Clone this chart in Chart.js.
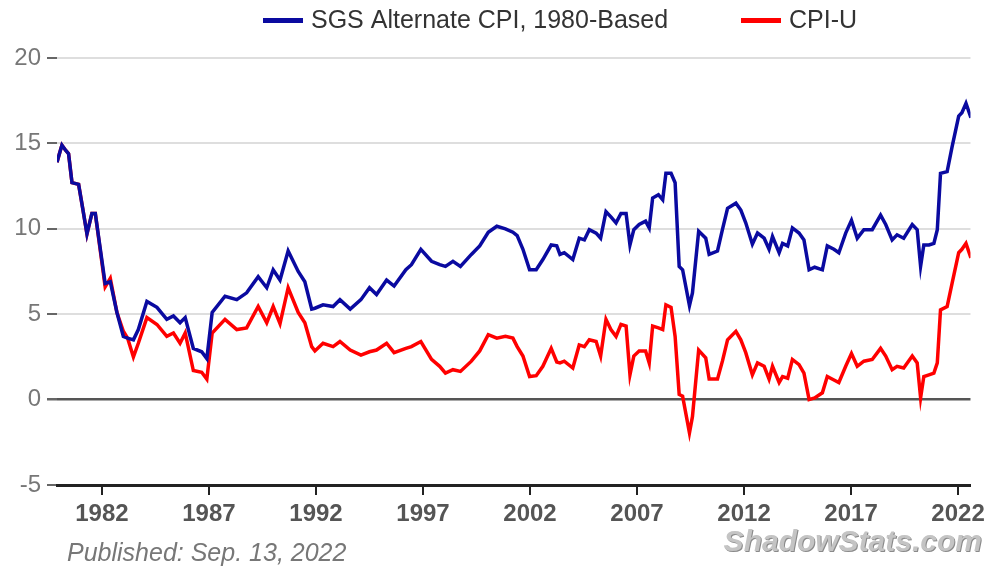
<!DOCTYPE html>
<html>
<head>
<meta charset="utf-8">
<script src="https://cdn.jsdelivr.net/npm/chart.js@4/dist/chart.umd.min.js"></script>
<style>
  body { margin: 0; background: #fff; }
</style>
</head>
<body>
<canvas id="cpiChart" width="990" height="569"></canvas>
<script>
// Year-over-year inflation
var years = [
  1979.9, 1980.13, 1980.3, 1980.44, 1980.6, 1980.91, 1981.1, 1981.3, 1981.53, 1981.69,
  1982.15, 1982.39, 1982.7, 1983.0, 1983.2, 1983.47, 1983.7, 1984.1, 1984.57, 1985.03,
  1985.34, 1985.65, 1985.89, 1986.27, 1986.66, 1986.9, 1987.15, 1987.75, 1988.3, 1988.76,
  1989.3, 1989.7, 1990.0, 1990.32, 1990.7, 1991.17, 1991.48, 1991.8, 1991.95, 1992.33,
  1992.8, 1993.12, 1993.6, 1994.1, 1994.5, 1994.83, 1995.3, 1995.65, 1996.2, 1996.46,
  1996.9, 1997.4, 1997.78, 1998.05, 1998.4, 1998.75, 1999.26, 1999.65, 2000.05, 2000.45,
  2000.85, 2001.2, 2001.4, 2001.67, 2001.98, 2002.29, 2002.6, 2002.99, 2003.25, 2003.4,
  2003.6, 2004.0, 2004.3, 2004.54, 2004.77, 2005.09, 2005.3, 2005.55, 2005.78, 2006.02,
  2006.25, 2006.49, 2006.67, 2006.85, 2007.1, 2007.4, 2007.57, 2007.73, 2008.0, 2008.2,
  2008.35, 2008.59, 2008.78, 2008.97, 2009.13, 2009.45, 2009.59, 2009.88, 2010.21, 2010.37,
  2010.76, 2010.99, 2011.23, 2011.62, 2011.85, 2012.08, 2012.39, 2012.63, 2012.94, 2013.17,
  2013.33, 2013.64, 2013.8, 2014.04, 2014.26, 2014.57, 2014.8, 2015.04, 2015.3, 2015.66,
  2015.89, 2016.2, 2016.43, 2016.75, 2017.02, 2017.29, 2017.6, 2017.99, 2018.38, 2018.62,
  2018.92, 2019.15, 2019.46, 2019.86, 2020.09, 2020.25, 2020.4, 2020.64, 2020.87, 2021.03,
  2021.18, 2021.49, 2021.72, 2022.03, 2022.18, 2022.37, 2022.6
];

// SGS Alternate CPI, 1980-Based
var sgsAlt = [
  13.9, 14.9, 14.6, 14.4, 12.7, 12.6, 11.2, 9.7, 10.9, 10.9,
  6.8, 6.9, 5.1, 3.7, 3.6, 3.5, 4.1, 5.75, 5.4, 4.7,
  4.9, 4.5, 4.8, 3.0, 2.8, 2.4, 5.1, 6.05, 5.85, 6.25,
  7.2, 6.55, 7.6, 7.0, 8.7, 7.5, 6.9, 5.3, 5.35, 5.55,
  5.45, 5.85, 5.3, 5.85, 6.55, 6.15, 7.0, 6.65, 7.6, 7.9,
  8.8, 8.1, 7.9, 7.8, 8.1, 7.8, 8.5, 9.0, 9.8, 10.15,
  10.0, 9.8, 9.6, 8.8, 7.6, 7.6, 8.2, 9.05, 9.0, 8.5,
  8.6, 8.2, 9.45, 9.35, 9.95, 9.75, 9.45, 11.0, 10.7, 10.35,
  10.9, 10.9, 9.05, 9.95, 10.25, 10.45, 10.05, 11.8, 12.0, 11.7,
  13.25, 13.25, 12.7, 7.8, 7.6, 5.5, 6.25, 9.85, 9.45, 8.5,
  8.7, 9.95, 11.2, 11.5, 11.1, 10.35, 9.1, 9.75, 9.45, 8.8,
  9.55, 8.6, 9.15, 9.0, 10.05, 9.75, 9.35, 7.6, 7.75, 7.6,
  9.0, 8.8, 8.6, 9.75, 10.5, 9.45, 9.95, 9.95, 10.8, 10.25,
  9.35, 9.65, 9.45, 10.25, 9.95, 7.8, 9.05, 9.05, 9.15, 9.95,
  13.25, 13.35, 14.8, 16.6, 16.8, 17.35, 16.5
];

// CPI-U
var cpiU = [
  13.9, 14.9, 14.6, 14.4, 12.7, 12.6, 11.2, 9.7, 10.9, 10.9,
  6.6, 7.1, 5.1, 4.0, 3.6, 2.5, 3.3, 4.8, 4.4, 3.7,
  3.9, 3.3, 3.9, 1.7, 1.6, 1.2, 3.9, 4.7, 4.1, 4.2,
  5.45, 4.5, 5.45, 4.45, 6.55, 5.1, 4.5, 3.1, 2.85, 3.3,
  3.1, 3.4, 2.9, 2.6, 2.8, 2.9, 3.3, 2.75, 3.0, 3.1,
  3.4, 2.35, 1.95, 1.55, 1.75, 1.65, 2.25, 2.85, 3.8, 3.6,
  3.7, 3.6, 3.1, 2.55, 1.35, 1.4, 1.95, 3.0, 2.2, 2.15,
  2.25, 1.85, 3.2, 3.1, 3.5, 3.4, 2.55, 4.7, 4.1, 3.7,
  4.4, 4.3, 1.45, 2.55, 2.85, 2.85, 2.15, 4.3, 4.2, 4.1,
  5.55, 5.4, 3.7, 0.3, 0.2, -1.95, -1.0, 2.9, 2.45, 1.2,
  1.2, 2.25, 3.5, 4.0, 3.5, 2.75, 1.45, 2.15, 1.95, 1.2,
  1.95, 1.0, 1.35, 1.25, 2.35, 2.05, 1.55, 0.0, 0.1, 0.4,
  1.35, 1.15, 1.0, 1.95, 2.7, 1.95, 2.25, 2.35, 3.0, 2.55,
  1.75, 1.95, 1.85, 2.55, 2.15, 0.1, 1.35, 1.45, 1.55, 2.15,
  5.25, 5.45, 6.8, 8.6, 8.8, 9.15, 8.3
];

var tickYears = [1982, 1987, 1992, 1997, 2002, 2007, 2012, 2017, 2022];
var yTicks = [-5, 0, 5, 10, 15, 20];

var FONT = "'Liberation Sans', Arial, sans-serif";

function toPoints(values) {
  return years.map(function (x, i) {
    return { x: x, y: values[i] };
  });
}

// legend at the top and the two footer notes
var headerFooter = {
  id: "headerFooter",
  afterDraw: function (chart) {
    var ctx = chart.ctx;
    var sets = chart.data.datasets;
    var boxX = [263, 741];
    ctx.save();
    ctx.font = "25px " + FONT;
    ctx.textBaseline = "middle";
    sets.forEach(function (ds, i) {
      ctx.fillStyle = ds.borderColor;
      ctx.fillRect(boxX[i], 18, 40, 5);
      ctx.fillStyle = "#333";
      ctx.fillText(ds.label, boxX[i] + 48, 21);
    });

    ctx.textBaseline = "alphabetic";
    ctx.font = "italic 25px " + FONT;
    ctx.fillStyle = "#777";
    ctx.fillText("Published: Sep. 13, 2022", 67, 561);

    ctx.font = "italic bold 30px " + FONT;
    ctx.textAlign = "right";
    ctx.fillStyle = "#8a8a8a";
    ctx.fillText("ShadowStats.com", 983, 552);
    ctx.fillStyle = "#c4c4c4";
    ctx.fillText("ShadowStats.com", 982, 551);
    ctx.restore();
  }
};

new Chart("cpiChart", {
  type: "line",
  data: {
    datasets: [
      {
        label: "SGS Alternate CPI, 1980-Based",
        data: toPoints(sgsAlt),
        borderColor: "#0a0aa0",
        borderWidth: 3.5,
        pointRadius: 0,
        tension: 0,
      },
      {
        label: "CPI-U",
        data: toPoints(cpiU),
        borderColor: "#ff0000",
        borderWidth: 3.5,
        pointRadius: 0,
        tension: 0,
      },
    ],
  },
  options: {
    responsive: false,
    animation: false,
    devicePixelRatio: 1,
    layout: {
      padding: { top: 58, right: 18, left: 0, bottom: 0 },
    },
    plugins: {
      legend: { display: false },
      tooltip: { enabled: false },
    },
    scales: {
      x: {
        type: "linear",
        min: 1979.9,
        max: 2022.58,
        afterBuildTicks: function (scale) {
          scale.ticks = tickYears.map(function (v) {
            return { value: v };
          });
        },
        afterFit: function (scale) {
          scale.height = 84;
        },
        ticks: {
          autoSkip: false,
          maxRotation: 0,
          padding: 5,
          color: "#555",
          font: { family: FONT, size: 24, weight: "bold" },
          callback: function (v) {
            return String(v);
          },
        },
        grid: {
          drawOnChartArea: false,
          drawTicks: true,
          tickLength: 10,
          tickColor: "#222",
          lineWidth: 2,
        },
        border: { display: true, color: "#222", width: 3 },
      },
      y: {
        min: -5,
        max: 20,
        afterBuildTicks: function (scale) {
          scale.ticks = yTicks.map(function (v) {
            return { value: v };
          });
        },
        afterFit: function (scale) {
          scale.width = 57;
        },
        ticks: {
          padding: 6,
          color: "#777",
          font: { family: FONT, size: 24 },
        },
        grid: {
          color: function (c) {
            if (c.tick.value === 0) return "#555";
            if (c.tick.value === -5) return "#222";
            return "#dedede";
          },
          lineWidth: function (c) {
            return c.tick.value === 0 ? 2.5 : 2;
          },
          tickLength: 10,
          tickColor: "#666",
        },
        border: { display: false },
      },
    },
  },
  plugins: [headerFooter],
});
</script>
</body>
</html>
